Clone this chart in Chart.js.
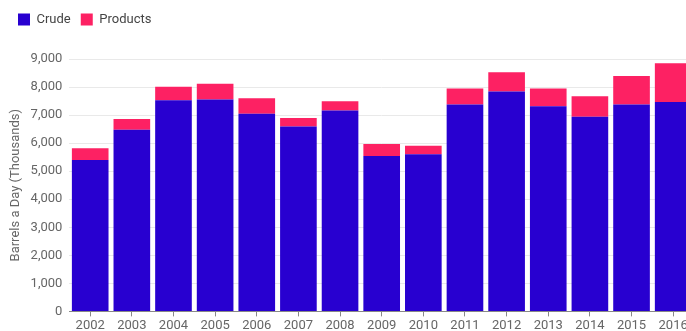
<!DOCTYPE html>
<html>
<head>
<meta charset="utf-8">
<script src="https://cdn.jsdelivr.net/npm/chart.js@4"></script>
<style>
  html, body { margin: 0; padding: 0; background: #fff; overflow: hidden; }
  #wrap { width: 700px; height: 336px; position: relative; }
</style>
</head>
<body>
<div id="wrap"><canvas id="grafico"></canvas></div>
<script>
const anos = ['2002', '2003', '2004', '2005', '2006', '2007', '2008', '2009',
              '2010', '2011', '2012', '2013', '2014', '2015', '2016'];
const crude = [5400, 6475, 7530, 7555, 7050, 6595, 7160, 5545,
               5600, 7375, 7840, 7315, 6945, 7375, 7470];
const products = [420, 385, 480, 565, 550, 300, 335, 420,
                  310, 575, 685, 635, 730, 1020, 1380];

const fonte = "Roboto, 'Liberation Sans', sans-serif";
const ctx = document.getElementById('grafico').getContext('2d');

// espaco extra entre a legenda e a area do grafico
const espacoLegenda = {
    id: 'espacoLegenda',
    beforeInit(chart) {
        const fitOriginal = chart.legend.fit;
        chart.legend.fit = function () {
            fitOriginal.bind(chart.legend)();
            this.height += 23;
        };
    }
};

new Chart(ctx, {
    type: 'bar',
    data: {
        labels: anos,
        datasets: [
            { label: 'Crude', data: crude, backgroundColor: '#2800d0' },
            { label: 'Products', data: products, backgroundColor: '#fd2163' }
        ]
    },
    options: {
        responsive: true,
        maintainAspectRatio: false,
        animation: false,
        categoryPercentage: 0.88,
        barPercentage: 1,
        layout: { padding: { left: 8, right: 6, top: 3, bottom: 0 } },
        plugins: {
            legend: {
                align: 'start',
                labels: {
                    boxWidth: 12,
                    boxHeight: 12,
                    padding: 10,
                    color: '#444',
                    font: { family: fonte, size: 13 }
                }
            },
            tooltip: { enabled: false }
        },
        scales: {
            x: {
                stacked: true,
                grid: {
                    offset: false,
                    drawOnChartArea: false,
                    tickLength: 5,
                    color: '#888'
                },
                border: { color: '#888' },
                ticks: {
                    color: '#666',
                    padding: 2,
                    maxRotation: 0,
                    autoSkip: false,
                    font: { family: fonte, size: 13 }
                }
            },
            y: {
                stacked: true,
                min: 0,
                max: 9000,
                grid: { color: '#e9e9e9', drawTicks: false },
                border: { display: false },
                ticks: {
                    stepSize: 1000,
                    padding: 7,
                    color: '#666',
                    font: { family: fonte, size: 13 },
                    callback: v => v.toLocaleString('en-US')
                },
                title: {
                    display: true,
                    text: 'Barrels a Day (Thousands)',
                    color: '#666',
                    padding: 0,
                    font: { family: fonte, size: 13 }
                }
            }
        }
    },
    plugins: [espacoLegenda]
});
</script>
</body>
</html>
